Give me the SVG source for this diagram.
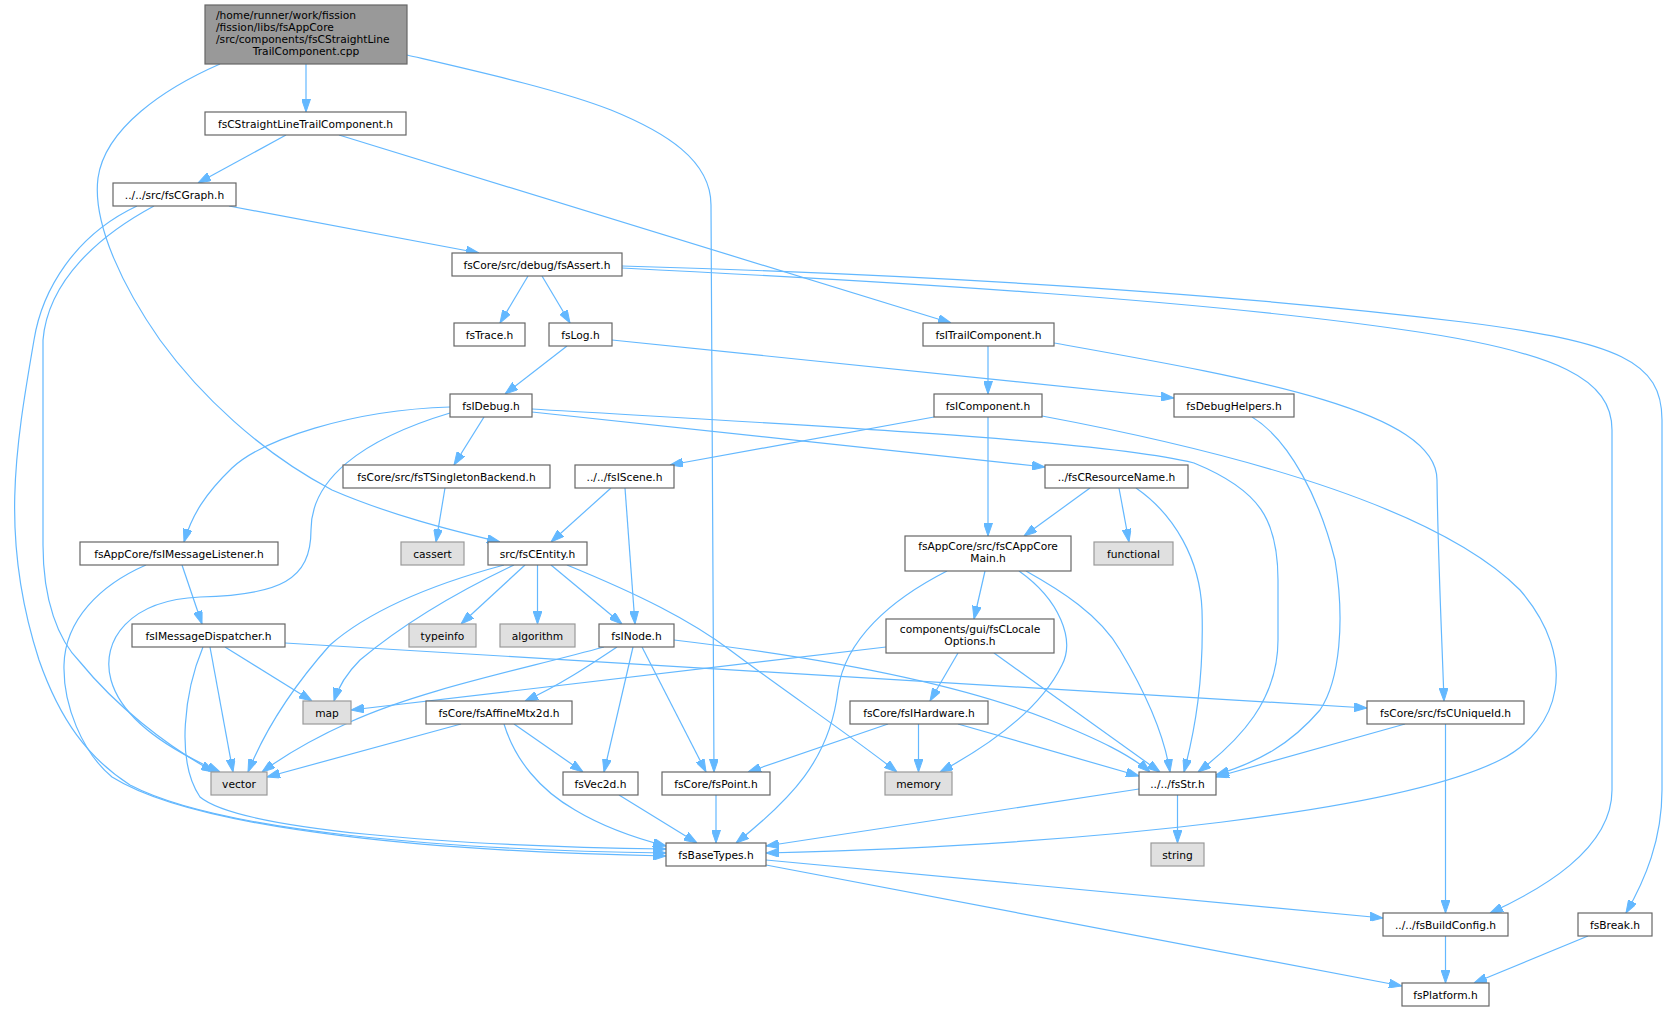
<svg xmlns="http://www.w3.org/2000/svg" width="1669" height="1012" viewBox="0 0 1669 1012">
<style>
rect{fill:#fff;stroke:#666666;stroke-width:1.2}
rect.g{fill:#e0e0e0;stroke:#999999}
rect.r{fill:#999999;stroke:#666666}
text{font-family:"DejaVu Sans","Noto Sans",sans-serif;font-size:10.67px;fill:#000;text-anchor:middle}
text.l{text-anchor:start}
#edges path{fill:none;stroke:#63b8ff;stroke-width:1.2;marker-end:url(#ah)}
</style>
<defs>
<marker id="ah" markerWidth="13" markerHeight="9" refX="13" refY="4.5" orient="auto" markerUnits="userSpaceOnUse"><path d="M0,0 L13,4.5 L0,9 z" fill="#63b8ff" stroke="#63b8ff" stroke-width="1"/></marker>
</defs>
<rect x="0" y="0" width="1669" height="1012" style="fill:#fff;stroke:none"/>
<g id="edges">
<path d="M306,64 L306,112"/>
<path d="M220,64 C165,88 105,128 98,178 C92,225 125,290 160,340 C200,395 260,452 332,490 C390,515 450,530 500,542"/>
<path d="M407,55 C480,72 560,90 611,110 C665,132 711,160 711,205 L714,772"/>
<path d="M286,135 L198,183"/>
<path d="M339,135 L951,323"/>
<path d="M229,206 L479,253"/>
<path d="M154,206 C100,235 48,280 43,340 L43,545 C43,600 58,640 80,662 C115,705 165,745 214,772"/>
<path d="M137,206 C75,235 42,290 34,340 C15,450 0,540 39,660 C60,720 88,758 130,785 C220,832 450,850 666,853"/>
<path d="M528,276 L500,323"/>
<path d="M542,276 L570,323"/>
<path d="M622,268 C900,282 1200,300 1405,330 C1560,352 1612,380 1612,430 L1612,790 C1612,850 1540,890 1490,913"/>
<path d="M622,266 C900,274 1200,290 1463,322 C1620,342 1662,362 1662,420 L1662,790 C1662,840 1645,880 1626,913"/>
<path d="M567,346 L505,394"/>
<path d="M612,340 L1174,398"/>
<path d="M988,346 L988,394"/>
<path d="M1054,343 C1250,378 1437,410 1437,480 C1438,560 1442,640 1444,701"/>
<path d="M934,417 L670,465"/>
<path d="M988,417 L988,536"/>
<path d="M1042,416 C1250,455 1440,510 1520,590 C1580,660 1560,730 1500,760 C1400,810 1100,845 766,853"/>
<path d="M450,407 C350,410 262,440 232,468 C205,494 192,515 184,542"/>
<path d="M484,417 L454,465"/>
<path d="M450,413 C360,440 311,480 311,530 C311,580 280,595 200,597 C130,600 100,640 111,680 C122,720 170,750 220,772"/>
<path d="M532,412 L1045,467"/>
<path d="M532,409 C800,425 1100,440 1194,463 C1260,490 1278,520 1278,580 L1278,640 C1278,700 1240,740 1198,772"/>
<path d="M1252,417 C1290,440 1320,500 1335,560 C1345,620 1340,680 1320,710 C1290,745 1258,762 1216,775"/>
<path d="M445,488 L436,542"/>
<path d="M611,488 L551,542"/>
<path d="M625,488 L635,624"/>
<path d="M1090,488 L1024,536"/>
<path d="M1119,488 L1129,542"/>
<path d="M1136,488 C1175,515 1200,560 1202,610 C1204,680 1195,730 1184,772"/>
<path d="M182,565 L202,624"/>
<path d="M146,565 C100,585 65,620 64,665 C63,705 82,752 112,777 C200,832 450,852 666,856"/>
<path d="M525,565 L461,624"/>
<path d="M537.5,565 L537.5,624"/>
<path d="M551,565 L622,624"/>
<path d="M567,565 C640,595 690,620 730,650 C790,695 850,735 897,772"/>
<path d="M504,565 C430,585 370,610 330,645 C290,690 265,730 248,772"/>
<path d="M514,565 C440,600 390,635 360,660 C345,675 338,688 334,701"/>
<path d="M604,647 C520,670 420,690 350,722 C310,740 285,755 262,772"/>
<path d="M617,647 C590,665 560,685 525,701"/>
<path d="M633,647 L604,772"/>
<path d="M642,647 L706,772"/>
<path d="M674,640 C800,655 950,680 1050,720 C1100,740 1130,755 1150,772"/>
<path d="M985,571 L974,619"/>
<path d="M947,571 C890,600 845,640 838,690 C830,760 790,800 736,843"/>
<path d="M1019,571 C1060,600 1075,640 1062,665 C1040,710 990,745 940,772"/>
<path d="M1026,571 C1060,590 1100,615 1120,650 C1150,700 1165,740 1170,772"/>
<path d="M886,647 L351,710"/>
<path d="M958,653 L930,701"/>
<path d="M994,653 L1160,772"/>
<path d="M225,647 L312,701"/>
<path d="M210,647 L233,772"/>
<path d="M203,647 C185,690 175,760 200,797 C240,830 450,846 666,849"/>
<path d="M285,643 L1367,708"/>
<path d="M461,724 L267,777"/>
<path d="M514,724 L583,772"/>
<path d="M504,724 C515,760 540,790 575,810 C605,828 635,838 666,846"/>
<path d="M619,795 L697,843"/>
<path d="M716,795 L716,843"/>
<path d="M1139,789 L766,846"/>
<path d="M1177.5,795 L1177.5,843"/>
<path d="M766,860 L1383,918"/>
<path d="M766,865 L1402,986"/>
<path d="M1445.5,936 L1445.5,983"/>
<path d="M1588,936 L1474,983"/>
<path d="M1405,724 L1216,777"/>
<path d="M1445.5,724 L1445.5,913"/>
<path d="M888,724 L748,772"/>
<path d="M918.5,724 L918.5,772"/>
<path d="M958,724 L1139,776"/>
</g>
<g id="n0"><rect class="r" x="205" y="5" width="202" height="59"/><text class="l" x="216" y="19">/home/runner/work/fission</text><text class="l" x="216" y="31">/fission/libs/fsAppCore</text><text class="l" x="216" y="43">/src/components/fsCStraightLine</text><text x="306" y="55">TrailComponent.cpp</text></g>
<g id="n1"><rect x="205" y="112" width="201" height="23"/><text x="305.5" y="127.5">fsCStraightLineTrailComponent.h</text></g>
<g id="n2"><rect x="113" y="183" width="123" height="23"/><text x="174.5" y="198.5">../../src/fsCGraph.h</text></g>
<g id="n3"><rect x="452" y="253" width="170" height="23"/><text x="537" y="268.5">fsCore/src/debug/fsAssert.h</text></g>
<g id="n4"><rect x="454" y="323" width="71" height="23"/><text x="489.5" y="338.5">fsTrace.h</text></g>
<g id="n5"><rect x="549" y="323" width="63" height="23"/><text x="580.5" y="338.5">fsLog.h</text></g>
<g id="n6"><rect x="923" y="323" width="131" height="23"/><text x="988.5" y="338.5">fsITrailComponent.h</text></g>
<g id="n7"><rect x="450" y="394" width="82" height="23"/><text x="491" y="409.5">fsIDebug.h</text></g>
<g id="n8"><rect x="934" y="394" width="108" height="23"/><text x="988" y="409.5">fsIComponent.h</text></g>
<g id="n9"><rect x="1174" y="394" width="120" height="23"/><text x="1234" y="409.5">fsDebugHelpers.h</text></g>
<g id="n10"><rect x="343" y="465" width="207" height="23"/><text x="446.5" y="480.5">fsCore/src/fsTSingletonBackend.h</text></g>
<g id="n11"><rect x="575" y="465" width="99" height="23"/><text x="624.5" y="480.5">../../fsIScene.h</text></g>
<g id="n12"><rect x="1045" y="465" width="143" height="23"/><text x="1116.5" y="480.5">../fsCResourceName.h</text></g>
<g id="n13"><rect x="80" y="542" width="198" height="23"/><text x="179" y="557.5">fsAppCore/fsIMessageListener.h</text></g>
<g id="n14"><rect class="g" x="401" y="542" width="63" height="23"/><text x="432.5" y="557.5">cassert</text></g>
<g id="n15"><rect x="488" y="542" width="99" height="23"/><text x="537.5" y="557.5">src/fsCEntity.h</text></g>
<g id="n16"><rect x="905" y="536" width="166" height="35"/><text x="988" y="550">fsAppCore/src/fsCAppCore</text><text x="988" y="562">Main.h</text></g>
<g id="n17"><rect class="g" x="1094" y="542" width="79" height="23"/><text x="1133.5" y="557.5">functional</text></g>
<g id="n18"><rect x="132" y="624" width="153" height="23"/><text x="208.5" y="639.5">fsIMessageDispatcher.h</text></g>
<g id="n19"><rect class="g" x="409" y="624" width="67" height="23"/><text x="442.5" y="639.5">typeinfo</text></g>
<g id="n20"><rect class="g" x="500" y="624" width="75" height="23"/><text x="537.5" y="639.5">algorithm</text></g>
<g id="n21"><rect x="599" y="624" width="75" height="23"/><text x="636.5" y="639.5">fsINode.h</text></g>
<g id="n22"><rect x="886" y="619" width="168" height="34"/><text x="970" y="632.5">components/gui/fsCLocale</text><text x="970" y="644.5">Options.h</text></g>
<g id="n23"><rect class="g" x="303" y="701" width="48" height="23"/><text x="327" y="716.5">map</text></g>
<g id="n24"><rect x="426" y="701" width="146" height="23"/><text x="499" y="716.5">fsCore/fsAffineMtx2d.h</text></g>
<g id="n25"><rect x="850" y="701" width="138" height="23"/><text x="919" y="716.5">fsCore/fsIHardware.h</text></g>
<g id="n26"><rect x="1367" y="701" width="157" height="23"/><text x="1445.5" y="716.5">fsCore/src/fsCUniqueId.h</text></g>
<g id="n27"><rect class="g" x="211" y="772" width="56" height="23"/><text x="239" y="787.5">vector</text></g>
<g id="n28"><rect x="563" y="772" width="75" height="23"/><text x="600.5" y="787.5">fsVec2d.h</text></g>
<g id="n29"><rect x="662" y="772" width="108" height="23"/><text x="716" y="787.5">fsCore/fsPoint.h</text></g>
<g id="n30"><rect class="g" x="885" y="772" width="67" height="23"/><text x="918.5" y="787.5">memory</text></g>
<g id="n31"><rect x="1139" y="772" width="77" height="23"/><text x="1177.5" y="787.5">../../fsStr.h</text></g>
<g id="n32"><rect x="666" y="843" width="100" height="23"/><text x="716" y="858.5">fsBaseTypes.h</text></g>
<g id="n33"><rect class="g" x="1151" y="843" width="53" height="23"/><text x="1177.5" y="858.5">string</text></g>
<g id="n34"><rect x="1383" y="913" width="125" height="23"/><text x="1445.5" y="928.5">../../fsBuildConfig.h</text></g>
<g id="n35"><rect x="1578" y="913" width="74" height="23"/><text x="1615" y="928.5">fsBreak.h</text></g>
<g id="n36"><rect x="1402" y="983" width="87" height="23"/><text x="1445.5" y="998.5">fsPlatform.h</text></g>
</svg>
